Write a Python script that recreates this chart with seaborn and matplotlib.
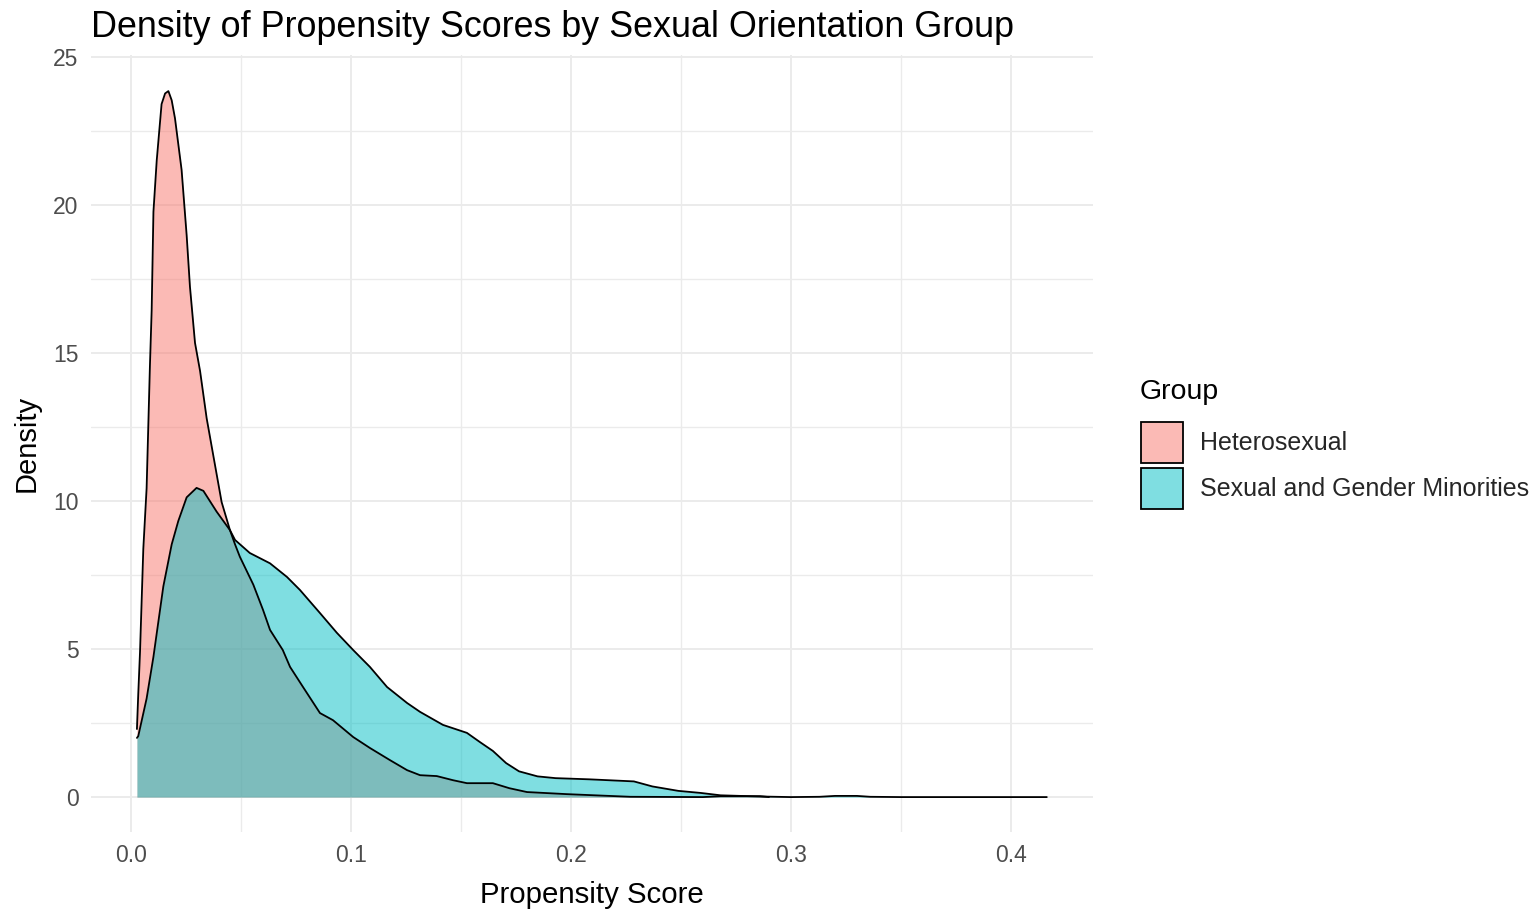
import numpy as np
import pandas as pd
import matplotlib
matplotlib.use("Agg")
import matplotlib.pyplot as plt
from matplotlib.patches import Patch
from matplotlib.ticker import MultipleLocator
import seaborn as sns

# ---- data (propensity score, density) ----
groups = ["Heterosexual", "Sexual and Gender Minorities"]

hetero_x = [0.0027, 0.0033, 0.0041, 0.0056, 0.0071, 0.0086, 0.0094, 0.0102, 0.0117,
            0.0139, 0.0155, 0.0170, 0.0185, 0.0200, 0.0230, 0.0253, 0.0268, 0.0291,
            0.0314, 0.0344, 0.0374, 0.0412, 0.0450, 0.0473, 0.0495, 0.0556, 0.0600,
            0.0632, 0.0690, 0.0723, 0.0782, 0.0859, 0.0918, 0.1010, 0.1086, 0.1177,
            0.1255, 0.1314, 0.1390, 0.1464, 0.1527, 0.1645, 0.1720, 0.1800, 0.1980,
            0.2270, 0.2600, 0.2680, 0.2860, 0.2900]
hetero_d = [2.30, 3.48, 4.90, 8.39, 10.44, 14.56, 16.46, 19.78, 21.52,
            23.42, 23.78, 23.86, 23.55, 22.94, 21.20, 18.99, 17.25, 15.35,
            14.40, 12.80, 11.55, 9.97, 9.02, 8.54, 8.12, 7.18, 6.33,
            5.65, 4.97, 4.40, 3.72, 2.84, 2.60, 2.03, 1.66, 1.25,
            0.91, 0.74, 0.71, 0.57, 0.47, 0.47, 0.30, 0.17, 0.10,
            0.01, 0.00, 0.03, 0.03, 0.00]

sgm_x = [0.0027, 0.0033, 0.0071, 0.0102, 0.0147, 0.0185, 0.0215, 0.0253, 0.0298,
         0.0329, 0.0389, 0.0450, 0.0473, 0.0540, 0.0632, 0.0709, 0.0768, 0.0859,
         0.0936, 0.1010, 0.1086, 0.1164, 0.1255, 0.1314, 0.1418, 0.1527, 0.1586,
         0.1645, 0.1705, 0.1764, 0.1848, 0.1930, 0.2084, 0.2286, 0.2370, 0.2488,
         0.2590, 0.2680, 0.2860, 0.3000, 0.3130, 0.3200, 0.3300, 0.3360, 0.3500,
         0.4163]
sgm_d = [2.00, 2.06, 3.33, 4.74, 7.12, 8.54, 9.33, 10.13, 10.45,
         10.35, 9.65, 9.02, 8.69, 8.25, 7.90, 7.44, 7.00, 6.22,
         5.55, 4.97, 4.40, 3.72, 3.18, 2.88, 2.44, 2.17, 1.86,
         1.56, 1.15, 0.87, 0.70, 0.64, 0.60, 0.53, 0.36, 0.21,
         0.14, 0.06, 0.02, 0.00, 0.01, 0.04, 0.04, 0.01, 0.00,
         0.00]

x_ticks = [0.0, 0.1, 0.2, 0.3, 0.4]
x_tick_labels = ["0.0", "0.1", "0.2", "0.3", "0.4"]
y_ticks = [0, 5, 10, 15, 20, 25]

title = "Density of Propensity Scores by Sexual Orientation Group"
x_label = "Propensity Score"
y_label = "Density"
legend_title = "Group"

# ---- styling ----
sns.set_theme(style="white")
plt.rcParams["font.family"] = ["Liberation Sans", "DejaVu Sans"]

fill_colors = {"Heterosexual": "#F8766D", "Sexual and Gender Minorities": "#00BFC4"}
FILL_ALPHA = 0.5

fig = plt.figure(figsize=(15.31, 9.11), dpi=100)
ax = fig.add_axes([91 / 1531, 1 - 832 / 911, (1093 - 91) / 1531, (832 - 55) / 911])

df = pd.concat([
    pd.DataFrame({"score": hetero_x, "density": hetero_d, "group": groups[0]}),
    pd.DataFrame({"score": sgm_x, "density": sgm_d, "group": groups[1]}),
], ignore_index=True)

for g in groups:
    sub = df[df["group"] == g]
    ax.fill_between(sub["score"], 0, sub["density"], color=fill_colors[g],
                    alpha=FILL_ALPHA, linewidth=0, zorder=2)
    sns.lineplot(data=sub, x="score", y="density", color="black", linewidth=1.3,
                 sort=False, estimator=None, ax=ax, zorder=3)

ax.set_xlim(-0.01818, 0.4373)
ax.set_ylim(-1.18, 25.08)

ax.set_xticks(x_ticks)
ax.set_xticklabels(x_tick_labels)
ax.set_yticks(y_ticks)
ax.xaxis.set_minor_locator(MultipleLocator(0.05))
ax.yaxis.set_minor_locator(MultipleLocator(2.5))

ax.grid(which="major", color="#EBEBEB", linewidth=1.4, zorder=0)
ax.grid(which="minor", color="#EBEBEB", linewidth=1.0, zorder=0)
ax.set_axisbelow(True)
for s in ax.spines.values():
    s.set_visible(False)
ax.tick_params(which="both", length=0, labelsize=16.5, labelcolor="#4D4D4D", pad=9)

ax.set_xlabel(x_label, fontsize=21.2, color="black", labelpad=10)
ax.set_ylabel(y_label, fontsize=21, color="black", labelpad=9)
ax.set_title(title, loc="left", fontsize=25.8, color="black", pad=13)

handles = [Patch(facecolor=fill_colors[g], alpha=FILL_ALPHA, edgecolor="black",
                 linewidth=1.3, label=g) for g in groups]
leg = fig.legend(handles=handles, loc="upper left",
                 bbox_to_anchor=(1141 / 1531, 1 - 422 / 911), frameon=False,
                 fontsize=18, handlelength=1.68, handleheight=2.14, handletextpad=0.66,
                 labelspacing=0.2, borderaxespad=0, borderpad=0)
for h in leg.legend_handles:
    h.set_alpha(None)
    fc = h.get_facecolor()
    h.set_facecolor((fc[0], fc[1], fc[2], FILL_ALPHA))
    h.set_edgecolor("black")
fig.text(1140 / 1531, 1 - 392 / 911, legend_title, fontsize=20.5, color="black",
         ha="left", va="center")

fig.savefig("out.png", dpi=100, facecolor="white")
